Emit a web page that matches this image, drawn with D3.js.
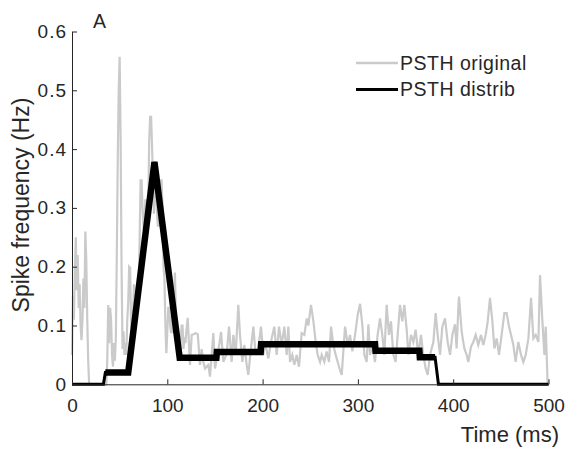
<!DOCTYPE html>
<html><head><meta charset="utf-8">
<script src="https://cdn.jsdelivr.net/npm/d3@7"></script>
<style>
body{margin:0;background:#fff}
svg{display:block}
text{font-family:Arial,"Liberation Sans",Helvetica,sans-serif;fill:#262626}
</style>
</head><body>
<svg id="c" width="568" height="453"></svg>
<script>
// PSTH original (gray), time in ms
const origT=[0,1,2,3,4,5,6,7,8,9,10,11,12,13,14,15,16,17,18,36,
37,38,39,40,41,42,43,44,45,46,47,48,49,50,51,52,53,54,55,56,57,58,59,60,
61,62,63,64,65,66,67,68,69,70,71,72,73,74,75,76,77,78,79,80,
81,82,83,84,85,86,87,88,89,90,91,92,93,94,95,96,97,98,99,100,
101,102,103,104,105,106,107,108,109,110,111,112,113,114,115,116,117,118,119,120,
121.4,123.8,125.6,127.3,130,132,134.3,136.1,137.8,139.6,143,144.8,148.3,150,153.5,156.4,158.8,162.3,164.8,167.5,
169.3,171.8,174.5,176.3,178.8,180.8,183.3,185,187.8,190.3,192.7,195.5,198.3,200.8,202.5,206,209.5,212.3,
214.8,217.2,220,222.8,225.3,227,228.8,231.2,233.3,235.7,238.2,241,243.8,246.3,248,250.8,253.3,255.7,257.8,
260.3,262,264.8,267.2,269.7,271.8,274.2,276.7,278.8,281.2,283,284.7,286.5,289.3,291.7,294.2,297,299.8,302.3,
304.7,306.8,309.2,311,312.7,315.1,317.9,320.7,323.2,325.6,327.7,330.2,332.6,334.7,337.2,339.6,341.7,344.2,346.6,
348.7,351.2,353,355.7,358.2,360.6,363.4,366.2,368.6,371.1,373.2,375.7,377.4,379.2,381.6,383.7,386.2,388.6,391.4,
394.2,396.7,399.1,401.9,403.6,405.4,406.1,408.9,411.7,414.1,415.9,418.7,421.1,423.6,426.3,429.2,431.6,434.1,
436.2,438.6,441.1,443.2,445.6,448.1,450.8,453.7,456.1,458.6,460.7,463.1,465.5,468.3,471.2,473.6,476.1,478.9,
481.7,484.1,486.6,489.4,491.1,493.6,495.7,497.1,499.1];
const origV=[0.05,0.15,0.11,0.2,0.25,0.16,0.22,0.13,0.17,0.1,0.075,0.11,0.18,0.13,0.26,0.21,0.11,0.04,0,0,
0.04,0.135,0.07,0.13,0.11,0.05,0.03,0.07,0.04,0.08,0.22,0.38,0.5,0.557,0.42,0.2,0.06,0.09,0.05,0.07,0.05,0.11,0.14,0.2,
0.198,0.1,0.075,0.12,0.17,0.155,0.12,0.14,0.17,0.16,0.25,0.347,0.347,0.3,0.268,0.27,0.313,0.313,0.27,0.3,
0.415,0.455,0.455,0.404,0.35,0.29,0.33,0.347,0.3,0.27,0.27,0.3,0.347,0.347,0.3,0.2,0.18,0.1,0.053,0.09,
0.13,0.13,0.1,0.087,0.12,0.087,0.15,0.19,0.12,0.087,0.06,0.05,0.04,0.07,0.1,0.1,0.06,0.08,0.07,0.09,
0.113,0.033,0.084,0.085,0.087,0.085,0.033,0.06,0.038,0.027,0.033,0.013,0.087,0.027,0.056,0.089,0.038,0.052,0.098,0.038,
0.084,0.052,0.135,0.084,0.038,0.067,0.033,0.016,0.061,0.098,0.05,0.061,0.098,0.05,0.072,0.044,0.078,0.098,
0.05,0.098,0.067,0.098,0.05,0.098,0.038,0.05,0.033,0.05,0.03,0.087,0.084,0.112,0.1,0.135,0.107,0.072,0.05,
0.038,0.05,0.038,0.056,0.038,0.098,0.067,0.05,0.038,0.024,0.016,0.056,0.098,0.067,0.084,0.056,0.084,0.118,0.137,
0.1,0.05,0.038,0.102,0.05,0.067,0.038,0.084,0.112,0.084,0.05,0.135,0.084,0.107,0.05,0.038,0.084,0.135,0.107,
0.135,0.093,0.05,0.084,0.072,0.093,0.05,0.084,0.05,0.027,0.016,0.05,0.061,0.072,0.121,0.084,0.05,0.098,0.112,
0.072,0.05,0.084,0.102,0.061,0.13,0.149,0.089,0.061,0.05,0.038,0.064,0.072,0.084,0.067,0.084,0.067,0.084,
0.107,0.147,0.107,0.061,0.078,0.05,0.084,0.121,0.121,0.098,0.084,0.067,0.038,0.072,0.05,0.038,0.05,0.078,
0.147,0.078,0.084,0.072,0.186,0.107,0.05,0.098,0];
// PSTH distrib (black)
const distT=[0,33,35,59,86.5,113,151.5,152,198,198.5,318,318.5,364.5,365,381,384.5,500];
const distV=[0,0,0.02,0.02,0.378,0.045,0.045,0.055,0.055,0.068,0.068,0.057,0.057,0.046,0.046,0,0];
const xTicks=[0,100,200,300,400,500];
const yTicks=[0,0.1,0.2,0.3,0.4,0.5,0.6];
const seriesNames=["PSTH original","PSTH distrib"];
const colors=["#cacaca","#000000"];

const svg=d3.select("#c");
const x=d3.scaleLinear().domain([0,500]).range([72,548.5]);
const y=d3.scaleLinear().domain([0,0.6]).range([384.3,31.5]);

const orig=origT.map((t,i)=>[t,origV[i]]);
const dist=distT.map((t,i)=>[t,distV[i]]);
const line=d3.line().x(d=>x(d[0])).y(d=>y(d[1]));

svg.append("path").attr("d",line(orig)).attr("fill","none")
  .attr("stroke",colors[0]).attr("stroke-width",2.2).attr("stroke-linejoin","miter");
svg.append("path").attr("d",line(dist)).attr("fill","none")
  .attr("stroke",colors[1]).attr("stroke-width",3);
// thicker appearance of the non-zero part (dense markers in the original)
const nz=dist.filter(d=>d[0]>=35&&d[0]<=381);
svg.append("path").attr("d",line(nz)).attr("fill","none")
  .attr("stroke",colors[1]).attr("stroke-width",6.5).attr("stroke-linecap","butt");

const fs=19;
const gx=svg.append("g").attr("transform",`translate(0,${y(0)})`)
  .call(d3.axisBottom(x).tickValues(xTicks).tickSizeInner(-5).tickSizeOuter(0).tickPadding(14).tickFormat(d3.format("d")));
const gy=svg.append("g").attr("transform",`translate(${x(0)},0)`)
  .call(d3.axisLeft(y).tickValues(yTicks).tickSizeInner(-5).tickSizeOuter(0).tickPadding(5).tickFormat(d=>d===0?"0":d3.format(".1f")(d)));
[gx,gy].forEach(g=>{
  g.select(".domain").attr("stroke","#262626").attr("stroke-width",1);
  g.selectAll(".tick line").attr("stroke","#262626");
  g.selectAll(".tick text").attr("fill","#262626").style("font-size",fs+"px")
   .style("font-family",'Arial,"Liberation Sans",sans-serif');
});
gy.selectAll(".tick text").style("letter-spacing","1px");

svg.append("text").attr("x",559).attr("y",442).attr("text-anchor","end")
  .style("font-size","22px").text("Time (ms)");
svg.append("text").attr("transform",`translate(28.5,205) rotate(-90)`).attr("text-anchor","middle")
  .style("font-size","23px").text("Spike frequency (Hz)");
svg.append("text").attr("x",93).attr("y",28).style("font-size","19.5px").text("A");

// legend
const lg=svg.append("g");
seriesNames.forEach((n,i)=>{
  const yy=63+i*26.5;
  lg.append("line").attr("x1",356).attr("x2",398).attr("y1",yy).attr("y2",yy)
    .attr("stroke",colors[i]).attr("stroke-width",i===0?2.5:3);
  lg.append("text").attr("x",400).attr("y",yy+6.5).style("font-size","19.5px")
    .style("letter-spacing","0.5px").text(n);
});
</script>
</body></html>
